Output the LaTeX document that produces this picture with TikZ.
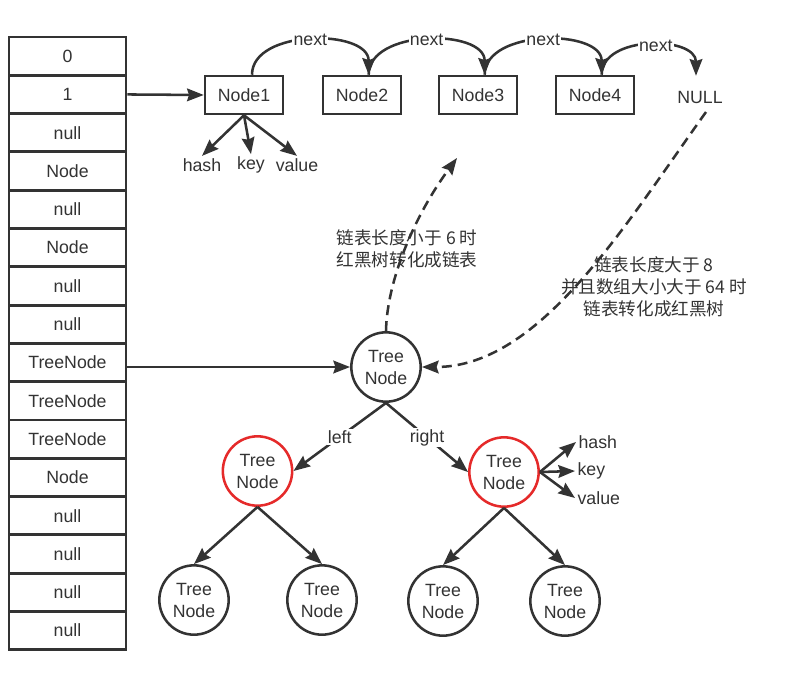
\documentclass[tikz,border=0pt]{standalone}
\usepackage{fontspec}
\setmainfont{Liberation Sans}
\newfontfamily\cjk{Noto Sans CJK SC}
\usetikzlibrary{arrows.meta}
\definecolor{ink}{HTML}{333333}
\definecolor{redc}{HTML}{E52A2A}
\begin{document}
\begin{tikzpicture}[x=0.75pt,y=-0.75pt,
  font=\fontsize{13.3}{16.5}\selectfont, color=ink, line width=1.9pt,
  arr/.style={-{Stealth[length=12.5pt,width=9.5pt,inset=1.5pt]}},
  cell/.style={draw, minimum width=87.75pt, minimum height=28.75pt, inner sep=0pt, line width=2.1pt},
  lbox/.style={draw, minimum width=58.5pt, minimum height=28.5pt, inner sep=0pt},
  tn/.style={draw, circle, minimum size=52pt, inner sep=0pt, align=center},
  rtn/.style={tn, draw=redc},
  lbl/.style={fill=white, inner sep=1pt},
  txt/.style={inner sep=1pt},
  dsh/.style={dash pattern=on 7.5pt off 4.5pt}
]
\useasboundingbox (0,0) rectangle (799,675);

% table
\foreach \t [count=\i from 0] in {0,1,null,Node,null,Node,null,null,TreeNode,TreeNode,TreeNode,Node,null,null,null,null}
  \node[cell] (c\i) at (67.5, {37+38.3*\i+19.15}) {\t};

% linked list
\node[lbox] (n1) at (244,95) {Node1};
\node[lbox] (n2) at (362,95) {Node2};
\node[lbox] (n3) at (478,95) {Node3};
\node[lbox] (n4) at (595,95) {Node4};
\node (nul) at (700,97) {NULL};

\draw[arr] (c1.east) -- (n1.west);

\draw[arr] ([xshift=6pt]n1.north) .. controls +(0,-46) and +(0,-46) .. node[lbl,pos=0.5] {next} ([xshift=5pt]n2.north);
\draw[arr] ([xshift=5pt]n2.north) .. controls +(0,-46) and +(0,-46) .. node[lbl,pos=0.5] {next} ([xshift=5pt]n3.north);
\draw[arr] ([xshift=5pt]n3.north) .. controls +(0,-46) and +(0,-46) .. node[lbl,pos=0.5] {next} ([xshift=5pt]n4.north);
\draw[arr] ([xshift=5pt]n4.north) .. controls +(0,-40) and +(0,-40) .. node[lbl,pos=0.55] {next} ([xshift=-3pt,yshift=7pt]nul.north);

% Node1 fields
\node[txt] (h1) at (202,165) {hash};
\node[txt] (k1) at (251,165) {key};
\node[txt] (v1) at (297,165) {value};
\draw[arr] (n1.south) -- (h1.north);
\draw[arr] (n1.south) -- (k1.north);
\draw[arr] (n1.south) -- (v1.north);

% tree
\node[tn] (root) at (386,367) {Tree\\Node};
\node[rtn] (lc) at (257.5,471) {Tree\\Node};
\node[rtn] (rc) at (504,472) {Tree\\Node};
\node[tn] (g1) at (194,600) {Tree\\Node};
\node[tn] (g2) at (322,600) {Tree\\Node};
\node[tn] (g3) at (443,601) {Tree\\Node};
\node[tn] (g4) at (565,601) {Tree\\Node};

\draw[arr] (c8.east |- root.west) -- (root.west);
\draw[arr] (root.south) -- node[lbl] {left} (lc.east);
\draw[arr] (root.south) -- node[lbl] {right} (rc.west);
\draw[arr] (lc.south) -- (g1.north);
\draw[arr] (lc.south) -- (g2.north);
\draw[arr] (rc.south) -- (g3.north);
\draw[arr] (rc.south) -- (g4.north);

% rc fields
\node[txt,anchor=west] (h2) at (576,442) {hash};
\node[txt,anchor=west] (k2) at (575,471) {key};
\node[txt,anchor=west] (v2) at (575,498) {value};
\draw[arr] (rc.east) -- (h2.west);
\draw[arr] (rc.east) -- (k2.west);
\draw[arr] (rc.east) -- (v2.west);

% conversion labels
\node[txt, align=center, font=\cjk\fontsize{13.2}{16.5}\selectfont] (t1) at (407,249) {链表长度小于 6 时\\红黑树转化成链表};
\node[txt, align=center, font=\cjk\fontsize{13.2}{16.5}\selectfont] (t2) at (654,287) {链表长度大于 8\\并且数组大小大于 64 时\\链表转化成红黑树};

% dashed conversions
\coordinate (up) at (457,158);
\coordinate (nb) at (706,112);
\draw[arr,dsh] (root.north) .. controls (387,280) and (415,215) .. (up);
\draw[arr,dsh] (nb) .. controls (625,225) and (540,367) .. (root.east);
\end{tikzpicture}
\end{document}
